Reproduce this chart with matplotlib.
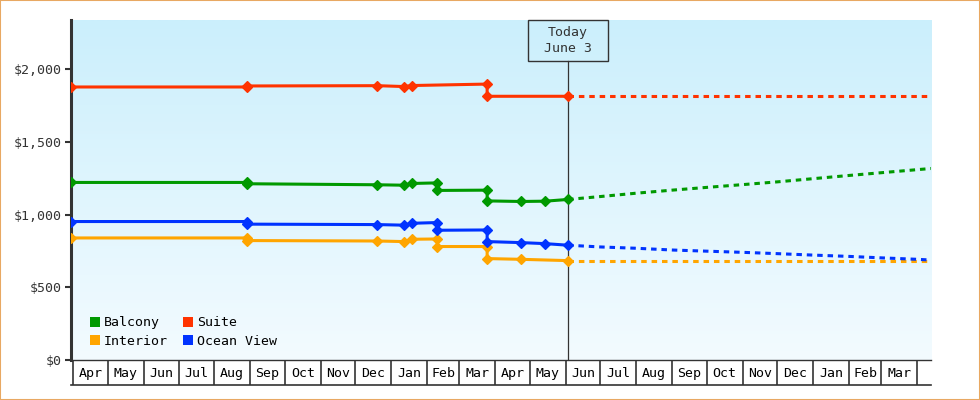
import numpy as np
import pandas as pd
import matplotlib
matplotlib.use("Agg")
import matplotlib.pyplot as plt
import matplotlib.dates as mdates
import matplotlib.transforms as mtransforms
from matplotlib.colors import LinearSegmentedColormap
from matplotlib.lines import Line2D
from matplotlib.patches import Rectangle
from matplotlib.ticker import FuncFormatter

# price history (step changes appear as two points on the same day)
suite_dates = ["2017-03-30", "2017-08-29", "2017-08-29", "2017-12-20", "2018-01-12",
               "2018-01-19", "2018-03-25", "2018-03-25", "2018-06-03"]
suite_prices = [1879, 1879, 1886, 1888, 1882, 1889, 1899, 1815, 1815]

balcony_dates = ["2017-03-30", "2017-08-29", "2017-08-29", "2017-12-20", "2018-01-12",
                 "2018-01-19", "2018-02-10", "2018-02-10", "2018-03-25", "2018-03-25",
                 "2018-04-23", "2018-05-14", "2018-06-03"]
balcony_prices = [1222, 1222, 1213, 1206, 1203, 1215, 1219, 1167, 1169, 1095, 1091, 1093, 1105]

ocean_dates = balcony_dates
ocean_prices = [953, 953, 935, 932, 928, 941, 946, 893, 895, 815, 808, 801, 790]

interior_dates = ["2017-03-30", "2017-08-29", "2017-08-29", "2017-12-20", "2018-01-12",
                  "2018-01-19", "2018-02-10", "2018-02-10", "2018-03-25", "2018-03-25",
                  "2018-04-23", "2018-06-03"]
interior_prices = [840, 840, 822, 819, 815, 831, 833, 781, 781, 698, 693, 684]

# forecast after today
forecast_dates = ["2018-06-03", "2018-07-01", "2018-08-01", "2018-09-01", "2018-10-01",
                  "2018-11-01", "2018-12-01", "2019-01-01", "2019-02-01", "2019-03-01",
                  "2019-04-01", "2019-04-13"]
suite_fc = [1815, 1815, 1815, 1815, 1815, 1815, 1815, 1815, 1815, 1815, 1815, 1815]
balcony_fc = [1105, 1125, 1148, 1169, 1188, 1207, 1226, 1248, 1270, 1289, 1310, 1318]
ocean_fc = [790, 778, 769, 757, 749, 741, 732, 722, 713, 703, 693, 688]
interior_fc = [684, 684, 684, 684, 684, 684, 684, 684, 684, 684, 684, 684]

today = "2018-06-03"
x_start, x_end = "2017-03-30", "2019-04-13"
month_starts = pd.date_range("2017-04-01", "2019-04-01", freq="MS")
month_labels = [d.strftime("%b") for d in month_starts[:-1]]
y_ticks = [0, 500, 1000, 1500, 2000]

colors = {"Balcony": "#009900", "Suite": "#FF3300",
          "Interior": "#FFA500", "Ocean View": "#0033FF"}
dark = "#333333"
plt.rcParams["font.family"] = ["DejaVu Sans Mono"]
fs = 9.5

fig = plt.figure(figsize=(9.8, 4), dpi=100)
ax = fig.add_axes([71 / 980, 40 / 400, 860 / 980, 340 / 400])
band = fig.add_axes([71 / 980, 15 / 400, 860 / 980, 25 / 400], sharex=ax)

# gradient background of plot area
grad = LinearSegmentedColormap.from_list("bg", ["#F3FBFF", "#CBEFFC"])
ax.imshow(np.linspace(0, 1, 256)[:, None], extent=[0, 1, 0, 1], transform=ax.transAxes,
          aspect="auto", cmap=grad, origin="lower", zorder=0)

series = [
    ("Suite", suite_dates, suite_prices, suite_fc),
    ("Balcony", balcony_dates, balcony_prices, balcony_fc),
    ("Interior", interior_dates, interior_prices, interior_fc),
    ("Ocean View", ocean_dates, ocean_prices, ocean_fc),
]
for name, d, p, fc in series:
    c = colors[name]
    ax.plot(pd.to_datetime(forecast_dates), fc, color=c, lw=2.2, dashes=(1.8, 1.6), zorder=3)
    ax.plot(pd.to_datetime(d), p, color=c, lw=2.2, marker="D", ms=5.2, mew=0.9, zorder=4)

x0, x1 = mdates.date2num(pd.Timestamp(x_start)), mdates.date2num(pd.Timestamp(x_end))
ax.set_xlim(x0, x1)
ax.set_ylim(0, 2340)
ax.set_yticks(y_ticks)
ax.yaxis.set_major_formatter(FuncFormatter(lambda v, p: f"${v:,.0f}"))
ax.tick_params(axis="y", length=4.5, width=1.5, color=dark, pad=2, labelsize=fs, labelcolor=dark)
ax.tick_params(axis="x", bottom=False, labelbottom=False)
for s in ["top", "right"]:
    ax.spines[s].set_visible(False)
ax.spines["left"].set_linewidth(2.2)
ax.spines["left"].set_color(dark)
ax.spines["bottom"].set_linewidth(1)
ax.spines["bottom"].set_color(dark)

# today marker with label box
tnum = mdates.date2num(pd.Timestamp(today))
box_h = 40.7 / 340
half_w = 40 * (x1 - x0) / 860
blend = mtransforms.blended_transform_factory(ax.transData, ax.transAxes)
ax.axvline(tnum, ymax=1 - box_h, color=dark, lw=0.9, zorder=2)
ax.add_patch(Rectangle((tnum - half_w, 1 - box_h), 2 * half_w, box_h, transform=blend,
                       fill=False, edgecolor=dark, lw=1, zorder=5, clip_on=False))
ax.text(tnum, 1 - box_h / 2, "Today\nJune 3", transform=blend, ha="center", va="center",
        fontsize=fs, color=dark, linespacing=1.35, zorder=6)

# legend
handles = [Line2D([], [], ls="none", marker="s", ms=7.7, mew=0, color=colors[n])
           for n in ["Balcony", "Interior", "Suite", "Ocean View"]]
ax.legend(handles, ["Balcony", "Interior", "Suite", "Ocean View"], ncol=2, frameon=False,
          loc="lower left", bbox_to_anchor=(0.022, 0.035), borderpad=0, borderaxespad=0,
          handlelength=0.8, handletextpad=0.25, columnspacing=1.15, labelspacing=0.45,
          fontsize=fs)

# month band under the axis
band.set_ylim(0, 1)
for d in month_starts:
    band.axvline(d, color=dark, lw=1.2)
for d, lab in zip(month_starts[:-1], month_labels):
    mid = d + (d + pd.offsets.MonthBegin(1) - d) / 2
    band.text(mid, 0.45, lab, ha="center", va="center", fontsize=fs, color="black")
band.set_xlim(x0, x1)
band.set_yticks([])
band.tick_params(axis="x", bottom=False, labelbottom=False)
for s in ["top", "left", "right"]:
    band.spines[s].set_visible(False)
band.spines["bottom"].set_linewidth(1.2)
band.spines["bottom"].set_color(dark)
band.patch.set_alpha(0)

# outer border
fig.patches.append(Rectangle((0.0005, 0.001), 0.999, 0.998, transform=fig.transFigure,
                             fill=False, edgecolor="#E8A862", lw=1.5))

fig.savefig("out.png", dpi=100)
